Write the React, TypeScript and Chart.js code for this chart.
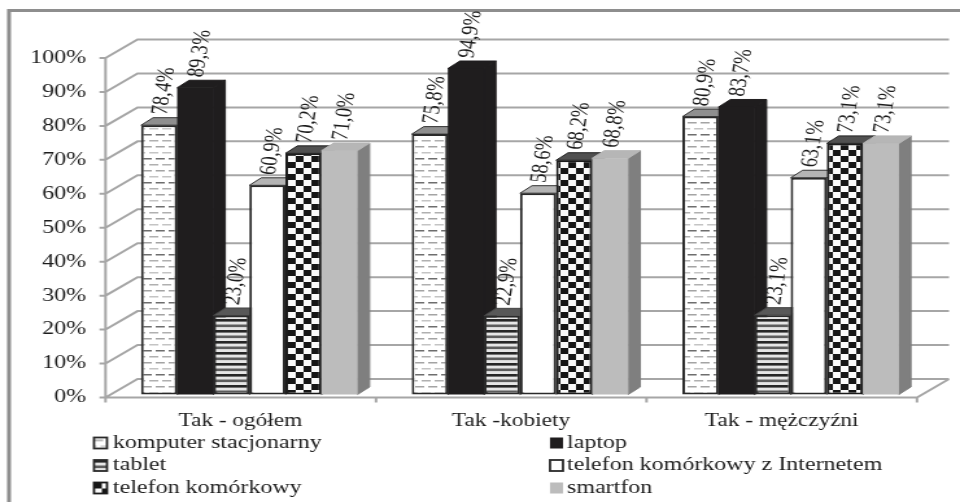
import React, { useEffect, useRef } from "react";
import { Chart, registerables } from "chart.js";

Chart.register(...registerables);

const categories = ["Tak - ogółem", "Tak -kobiety", "Tak - mężczyźni"];
const komputer = [78.4, 75.8, 80.9];
const laptop = [89.3, 94.9, 83.7];
const tablet = [23.0, 22.9, 23.1];
const telefonInternet = [60.9, 58.6, 63.1];
const telefon = [70.2, 68.2, 73.1];
const smartfon = [71.0, 68.8, 73.1];
const seriesNames = [
  "komputer stacjonarny",
  "laptop",
  "tablet",
  "telefon komórkowy z Internetem",
  "telefon komórkowy",
  "smartfon",
];

// The reference is a horizontally stretched scan: the canvas is drawn narrower and widened.
const K = 960 / 740;
const sx = (v: number) => v / K;
const FONT = "'Liberation Serif', serif";
const INK = "#1c1c1c";
const GRID = "#a6a6a6";

function tile(w: number, h: number, paint: (c: CanvasRenderingContext2D) => void) {
  const cv = document.createElement("canvas");
  cv.width = w;
  cv.height = h;
  const c = cv.getContext("2d")!;
  paint(c);
  return c.createPattern(cv, "repeat")!;
}

function makeStyles() {
  const dashes = tile(10, 24, (c) => {
    c.fillStyle = "#fff";
    c.fillRect(0, 0, 10, 24);
    const cols = ["#a4a4a4", "#c4c4c4", "#6e6e6e", "#b0b0b0"];
    cols.forEach((col, r) => {
      c.fillStyle = col;
      const off = r % 2 ? 5 : 0;
      c.fillRect(off, r * 6 + 2, 7, 1.5);
      c.fillRect(off - 10, r * 6 + 2, 7, 1.5);
    });
  });
  const stripes = tile(4, 11, (c) => {
    c.fillStyle = "#e6e6e6";
    c.fillRect(0, 0, 4, 11);
    c.fillStyle = "#262626";
    c.fillRect(0, 0, 4, 2.6);
    c.fillStyle = "#5c5c5c";
    c.fillRect(0, 5.5, 4, 2.6);
  });
  const checks = tile(12, 12, (c) => {
    c.fillStyle = "#fafafa";
    c.fillRect(0, 0, 12, 12);
    c.fillStyle = "#161616";
    c.fillRect(0, 0, 6, 6);
    c.fillRect(6, 6, 6, 6);
  });
  return [
    { fill: dashes, border: "#2a2a2a", width: 2, top: "#8f8f8f", side: "#555", edge: "#333" },
    { fill: "#1f1d1e", border: "#1f1d1e", width: 0, top: "#1f1d1e", side: "#1f1d1e", edge: "#1f1d1e" },
    { fill: stripes, border: "#2a2a2a", width: 2, top: "#585858", side: "#444", edge: "#444" },
    { fill: "#ffffff", border: "#2a2a2a", width: 2, top: "#b4b4b4", side: "#888", edge: "#333" },
    { fill: checks, border: "#1c1c1c", width: 2, top: "#505050", side: "#333", edge: "#222" },
    { fill: "#bcbcbc", border: "#bcbcbc", width: 0, top: "#b6b6b6", side: "#7f7f7f", edge: "#b6b6b6" },
  ];
}

const BAR_DX = sx(12);
const BAR_DY = 7.5;
const WALL_DX = sx(32);
const WALL_DY = 18.5;
const FRONT_LEFT = sx(105.5);
const FRONT_RIGHT = sx(917);
const LEGEND_COLS = [sx(94), sx(550)];
const LEGEND_TEXT = [sx(113), sx(567)];
const LEGEND_ROWS = [443, 465.5, 488];

function poly(ctx: CanvasRenderingContext2D, pts: number[][], fill: any, stroke?: string) {
  ctx.beginPath();
  pts.forEach((p, i) => (i ? ctx.lineTo(p[0], p[1]) : ctx.moveTo(p[0], p[1])));
  ctx.closePath();
  ctx.fillStyle = fill;
  ctx.fill();
  if (stroke) {
    ctx.strokeStyle = stroke;
    ctx.lineWidth = 1;
    ctx.stroke();
  }
}

const scene3d = {
  id: "scene3d",
  beforeDraw(chart: any) {
    const ctx = chart.ctx as CanvasRenderingContext2D;
    ctx.save();
    ctx.fillStyle = "#fff";
    ctx.fillRect(0, 0, chart.width, chart.height);
    ctx.strokeStyle = "#8e8e8e";
    ctx.lineWidth = 3;
    ctx.beginPath();
    ctx.moveTo(sx(9), 502);
    ctx.lineTo(sx(9), 10.5);
    ctx.lineTo(chart.width, 10.5);
    ctx.stroke();
    ctx.restore();
  },
  beforeDatasetsDraw(chart: any) {
    const ctx = chart.ctx as CanvasRenderingContext2D;
    const y = chart.scales.y;
    const x = chart.scales.x;
    ctx.save();
    ctx.strokeStyle = GRID;
    ctx.lineWidth = 2;
    ctx.beginPath();
    y.ticks.forEach((t: any) => {
      const py = y.getPixelForValue(t.value);
      ctx.moveTo(FRONT_LEFT - sx(6), py);
      ctx.lineTo(FRONT_LEFT, py);
      ctx.lineTo(FRONT_LEFT + WALL_DX, py - WALL_DY);
      ctx.lineTo(FRONT_RIGHT + WALL_DX, py - WALL_DY);
    });
    const y0 = y.getPixelForValue(0);
    ctx.moveTo(FRONT_LEFT, y.getPixelForValue(100));
    ctx.lineTo(FRONT_LEFT, y0);
    ctx.lineTo(FRONT_RIGHT, y0);
    ctx.lineTo(FRONT_RIGHT + WALL_DX, y0 - WALL_DY);
    const step = (FRONT_RIGHT - FRONT_LEFT) / x.ticks.length;
    for (let i = 0; i <= x.ticks.length; i++) {
      ctx.moveTo(FRONT_LEFT + step * i, y0);
      ctx.lineTo(FRONT_LEFT + step * i, y0 + 5);
    }
    ctx.stroke();

    // Bars go left to right, so each one hides the side of its left-hand neighbour.
    chart.data.datasets.forEach((ds: any, i: number) => {
      const meta = chart.getDatasetMeta(i);
      meta.data.forEach((el: any) => {
        const { x: cx, y: top, width, base } = el.getProps(["x", "y", "width", "base"], true);
        const l = cx - width / 2;
        const r = cx + width / 2;
        poly(ctx, [[r, top], [r + BAR_DX, top - BAR_DY], [r + BAR_DX, base - BAR_DY], [r, base]], ds.sideColor, ds.sideColor);
        poly(ctx, [[l, top], [l + BAR_DX, top - BAR_DY], [r + BAR_DX, top - BAR_DY], [r, top]], ds.topColor, ds.edgeColor);
        el.draw(ctx);
      });
    });
    ctx.restore();
  },
  beforeDatasetDraw() {
    return false;
  },
  afterDatasetsDraw(chart: any) {
    const ctx = chart.ctx as CanvasRenderingContext2D;
    ctx.save();
    ctx.fillStyle = INK;
    ctx.font = `18.5px ${FONT}`;
    ctx.textAlign = "left";
    ctx.textBaseline = "middle";
    chart.data.datasets.forEach((ds: any, i: number) => {
      chart.getDatasetMeta(i).data.forEach((el: any, j: number) => {
        const { x: cx, y: top } = el.getProps(["x", "y"], true);
        ctx.save();
        ctx.translate(cx + sx(1), top - BAR_DY - 3);
        ctx.rotate((-83 * Math.PI) / 180);
        ctx.fillText(ds.data[j].toFixed(1).replace(".", ",") + "%", 0, 0);
        ctx.restore();
      });
    });

    ctx.font = `18.5px ${FONT}`;
    chart.data.datasets.forEach((ds: any, i: number) => {
      const col = i % 2;
      const row = Math.floor(i / 2);
      const bx = LEGEND_COLS[col];
      const by = LEGEND_ROWS[row];
      ctx.save();
      ctx.translate(bx, by - 5.5);
      ctx.fillStyle = ds.backgroundColor;
      ctx.fillRect(0, 0, sx(13), 11);
      if (ds.borderWidth) {
        ctx.strokeStyle = ds.borderColor;
        ctx.lineWidth = 1.8;
        ctx.strokeRect(0, 0, sx(13), 11);
      }
      ctx.restore();
      ctx.fillStyle = INK;
      ctx.fillText(ds.label, LEGEND_TEXT[col], by);
    });
    ctx.restore();
  },
};

export default function App() {
  const ref = useRef<HTMLCanvasElement>(null);

  useEffect(() => {
    const styles = makeStyles();
    const values = [komputer, laptop, tablet, telefonInternet, telefon, smartfon];
    const chart = new Chart(ref.current!, {
      type: "bar",
      data: {
        labels: categories,
        datasets: values.map((data, i) => ({
          label: seriesNames[i],
          data,
          yAxisID: "yBars",
          backgroundColor: styles[i].fill,
          borderColor: styles[i].border,
          borderWidth: styles[i].width,
          borderSkipped: false,
          topColor: styles[i].top,
          sideColor: styles[i].side,
          edgeColor: styles[i].edge,
          categoryPercentage: 0.8,
          barPercentage: 1,
        })) as any,
      },
      options: {
        responsive: false,
        animation: false,
        devicePixelRatio: 1,
        layout: { padding: { top: 58, right: sx(34), left: 0, bottom: 0 } },
        plugins: { legend: { display: false }, tooltip: { enabled: false } },
        scales: {
          x: {
            grid: { display: false },
            border: { display: false },
            ticks: {
              color: INK,
              font: { family: FONT, size: 18 },
              padding: 5,
              labelOffset: -sx(9),
              maxRotation: 0,
            },
            afterFit: (s: any) => {
              s.height = 106.5;
            },
          },
          y: {
            min: 0,
            max: 100,
            grid: { display: false, drawTicks: false },
            border: { display: false },
            ticks: {
              stepSize: 10,
              color: INK,
              font: { family: FONT, size: 18.5 },
              padding: sx(28),
              callback: (v: any) => `${v}%`,
            },
            afterFit: (s: any) => {
              s.width = sx(114);
            },
          },
          yBars: { display: false, min: -0.875, max: 97.96 },
        },
      } as any,
      plugins: [scene3d as any],
    });
    return () => chart.destroy();
  }, []);

  return (
    <div style={{ position: "fixed", left: 0, top: 0, width: 960, height: 504, overflow: "hidden", background: "#fff" }}>
      <canvas
        ref={ref}
        width={740}
        height={504}
        style={{ display: "block", transformOrigin: "0 0", transform: `scaleX(${K})`, filter: "blur(0.45px)" }}
      />
    </div>
  );
}
